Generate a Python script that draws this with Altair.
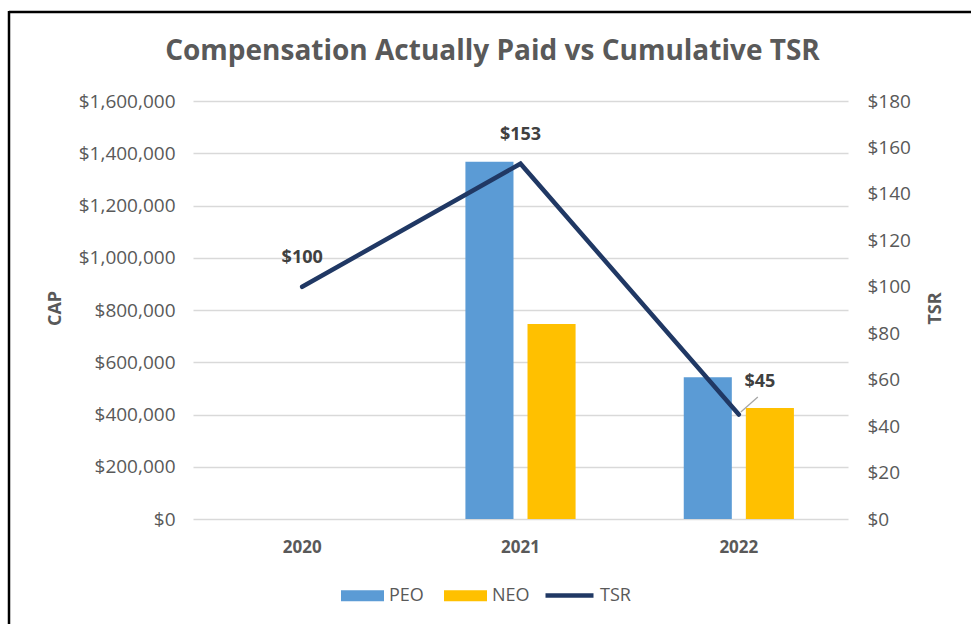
import altair as alt
import pandas as pd

# ---- data ----
years = ["2020", "2021", "2022"]
bar_years = ["2021", "2021", "2022", "2022"]
bar_groups = ["PEO", "NEO", "PEO", "NEO"]
bar_values = [1367000, 746000, 543000, 425000]
tsr_values = [100, 153, 45]
tsr_labels = ["$100", "$153", "$45"]
bar_series = ["PEO", "NEO"]
bar_colors = ["#5B9BD5", "#FFC000"]
line_series = ["TSR"]
line_colors = ["#203864"]
cap_ticks = [0, 200000, 400000, 600000, 800000, 1000000, 1200000, 1400000, 1600000]
tsr_ticks = [0, 20, 40, 60, 80, 100, 120, 140, 160, 180]

bars_df = pd.DataFrame({"Year": bar_years, "Group": bar_groups, "CAP": bar_values})
tsr_df = pd.DataFrame({"Year": years, "TSR": tsr_values, "Label": tsr_labels,
                       "Series": ["TSR"] * len(years)})
one = pd.DataFrame({"a": [0]})

FONT = "Open Sans"
GRAY = "#595959"
W, H = 655, 418

x_enc = alt.X(
    "Year:N",
    scale=alt.Scale(domain=years, paddingInner=0, paddingOuter=0),
    axis=alt.Axis(title=None, labelFont=FONT, labelFontSize=17, labelFontWeight="bold",
                  labelColor=GRAY, labelPadding=20, domain=False, ticks=False, labelAngle=0),
)

bar_legend = alt.Legend(
    title=None, orient="none", legendX=148, legendY=473, direction="horizontal",
    symbolType="M-1,-0.26H1V0.26H-1Z", symbolSize=1849, symbolStrokeWidth=0,
    labelFont=FONT, labelFontSize=18, labelColor=GRAY, labelOffset=5, columnPadding=20,
)
line_legend = alt.Legend(
    title=None, orient="none", legendX=350, legendY=468, direction="horizontal",
    symbolType="stroke", symbolSize=2304, symbolStrokeWidth=4.5,
    labelFont=FONT, labelFontSize=18, labelColor=GRAY, labelOffset=4,
)

bars = alt.Chart(bars_df).mark_bar().encode(
    x=x_enc,
    xOffset=alt.XOffset("Group:N", scale=alt.Scale(domain=bar_series, paddingInner=0.2258, paddingOuter=0.871)),
    y=alt.Y("CAP:Q", scale=alt.Scale(domain=[0, 1600000]),
            axis=alt.Axis(values=cap_ticks, format="$,.0f", labelFont=FONT, labelFontSize=19,
                          labelColor=GRAY, labelPadding=18, ticks=False, domain=False,
                          grid=True, gridColor="#D9D9D9", gridWidth=1.5,
                          title="CAP", titleFont=FONT, titleFontSize=18, titleFontWeight="bold",
                          titleColor=GRAY, titleAngle=-90, titleX=-138, titleY=207,
                          titleAlign="center", titleBaseline="middle")),
    color=alt.Color("Group:N", scale=alt.Scale(domain=bar_series, range=bar_colors), legend=bar_legend),
)

tsr_y = alt.Y("TSR:Q", scale=alt.Scale(domain=[0, 180]),
              axis=alt.Axis(orient="right", values=tsr_ticks, format="$.0f", labelFont=FONT,
                            labelFontSize=19, labelColor=GRAY, labelPadding=19, ticks=False,
                            domain=False, grid=False, title="TSR", titleFont=FONT,
                            titleFontSize=18, titleFontWeight="bold", titleColor=GRAY,
                            titleAngle=-90, titleX=87, titleY=207, titleAlign="center",
                            titleBaseline="middle"))

line = alt.Chart(tsr_df).mark_line(strokeWidth=4.5, strokeCap="round",
                                   strokeJoin="miter").encode(
    x=x_enc, y=tsr_y,
    stroke=alt.Stroke("Series:N", scale=alt.Scale(domain=line_series, range=line_colors),
                      legend=line_legend))

lab_style = dict(font=FONT, fontSize=18, fontWeight="bold", color="#404040")
labels_a = alt.Chart(tsr_df).transform_filter("datum.Year !== '2022'").mark_text(
    dy=-29, **lab_style).encode(x=x_enc, y=tsr_y, text="Label:N")
labels_b = alt.Chart(tsr_df).transform_filter("datum.Year === '2022'").mark_text(
    dx=21, dy=-33, **lab_style).encode(x=x_enc, y=tsr_y, text="Label:N")
leader = alt.Chart(tsr_df).transform_filter("datum.Year === '2022'").mark_point(
    shape="M0.1,-0.125L0.95,-0.875", size=1600, filled=False, stroke="#A6A6A6",
    strokeWidth=1.3, opacity=1).encode(x=x_enc, y=tsr_y)

tsr_layer = alt.layer(line, labels_a, labels_b, leader)

frame_top = alt.Chart(one).mark_rule(color="black", strokeWidth=2.5).encode(
    x=alt.value(-184), x2=alt.value(800), y=alt.value(-89), y2=alt.value(-89))
frame_left = alt.Chart(one).mark_rule(color="black", strokeWidth=2.5).encode(
    x=alt.value(-184), x2=alt.value(-184), y=alt.value(-90), y2=alt.value(540))

chart = alt.layer(bars, tsr_layer, frame_top, frame_left).resolve_scale(
    y="independent"
).properties(
    width=W, height=H,
    title=alt.TitleParams("Compensation Actually Paid vs Cumulative TSR", font=FONT,
                          fontSize=28, fontWeight="bold", color=GRAY, anchor="middle",
                          frame="group", dx=-28, offset=-56),
    autosize=alt.AutoSizeParams(type="none"),
    padding={"left": 193, "top": 101, "right": 123, "bottom": 105},
    background="white",
).configure_view(stroke=None)

chart.save("out.html", embed_options={"renderer": "svg", "actions": False})
